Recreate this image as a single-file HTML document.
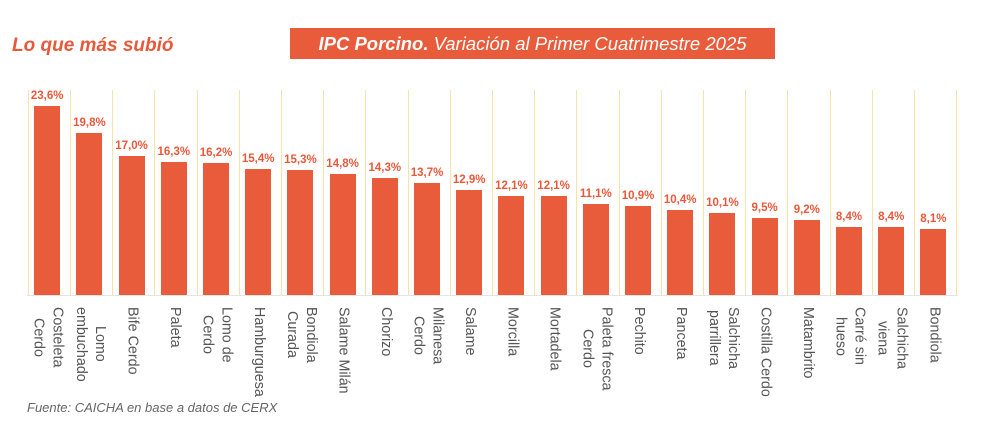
<!DOCTYPE html>
<html><head><meta charset="utf-8"><style>
body{margin:0;width:992px;height:441px;background:#fff;position:relative;overflow:hidden;font-family:"Liberation Sans",sans-serif}
.t1{position:absolute;left:12px;top:35px;font-size:19px;font-weight:bold;font-style:italic;color:#e8593a}
.tb{position:absolute;left:290px;top:28px;width:485px;height:31px;background:#e95c3b;color:#fff;font-size:18.5px;font-style:italic;line-height:31px;text-align:center}
.c{position:absolute;top:90px;height:205px;width:42.2px;border-left:1px solid #f8e3a0;box-sizing:border-box;display:flex;flex-direction:column;justify-content:flex-end}
.v{width:26px;margin-left:5.5px;text-align:center;white-space:nowrap;font-size:11.5px;font-weight:bold;color:#e8593a;margin-bottom:4px;display:flex;justify-content:center}
.b{width:26px;margin-left:5.5px;background:#e95c3b}
.l{position:absolute;top:217px;left:-1px;width:40px;display:flex;justify-content:center}
.l span{writing-mode:vertical-rl;text-align:center;font-size:14.3px;line-height:19px;color:#555;white-space:nowrap}
.base{position:absolute;left:27px;top:295px;width:931px;height:1px;background:#e4e4e4}
.r{position:absolute;left:956px;top:90px;width:1px;height:205px;background:#f8e3a0}
.src{position:absolute;left:27px;top:400px;font-size:13px;font-style:italic;color:#666}
</style></head><body>
<div class="t1">Lo que más subió</div>
<div class="tb"><b>IPC Porcino.</b> Variación al Primer Cuatrimestre 2025</div>
<div class="c" style="left:27.7px"><div class="v">23,6%</div><div class="b" style="height:193px"></div><div class="l"><span>Costeleta<br>Cerdo</span></div></div>
<div class="c" style="left:69.9px"><div class="v">19,8%</div><div class="b" style="height:162px"></div><div class="l"><span>Lomo<br>embuchado</span></div></div>
<div class="c" style="left:112.1px"><div class="v">17,0%</div><div class="b" style="height:139px"></div><div class="l"><span>Bife Cerdo</span></div></div>
<div class="c" style="left:154.3px"><div class="v">16,3%</div><div class="b" style="height:133px"></div><div class="l"><span>Paleta</span></div></div>
<div class="c" style="left:196.5px"><div class="v">16,2%</div><div class="b" style="height:132.5px"></div><div class="l"><span>Lomo de<br>Cerdo</span></div></div>
<div class="c" style="left:238.7px"><div class="v">15,4%</div><div class="b" style="height:126px"></div><div class="l"><span>Hamburguesa</span></div></div>
<div class="c" style="left:280.9px"><div class="v">15,3%</div><div class="b" style="height:125px"></div><div class="l"><span>Bondiola<br>Curada</span></div></div>
<div class="c" style="left:323.1px"><div class="v">14,8%</div><div class="b" style="height:121px"></div><div class="l"><span>Salame Milán</span></div></div>
<div class="c" style="left:365.3px"><div class="v">14,3%</div><div class="b" style="height:117px"></div><div class="l"><span>Chorizo</span></div></div>
<div class="c" style="left:407.5px"><div class="v">13,7%</div><div class="b" style="height:112px"></div><div class="l"><span>Milanesa<br>Cerdo</span></div></div>
<div class="c" style="left:449.7px"><div class="v">12,9%</div><div class="b" style="height:105.5px"></div><div class="l"><span>Salame</span></div></div>
<div class="c" style="left:491.9px"><div class="v">12,1%</div><div class="b" style="height:99px"></div><div class="l"><span>Morcilla</span></div></div>
<div class="c" style="left:534.1px"><div class="v">12,1%</div><div class="b" style="height:99px"></div><div class="l"><span>Mortadela</span></div></div>
<div class="c" style="left:576.3px"><div class="v">11,1%</div><div class="b" style="height:91px"></div><div class="l"><span>Paleta fresca<br>Cerdo</span></div></div>
<div class="c" style="left:618.5px"><div class="v">10,9%</div><div class="b" style="height:89px"></div><div class="l"><span>Pechito</span></div></div>
<div class="c" style="left:660.7px"><div class="v">10,4%</div><div class="b" style="height:85px"></div><div class="l"><span>Panceta</span></div></div>
<div class="c" style="left:702.9px"><div class="v">10,1%</div><div class="b" style="height:82.5px"></div><div class="l"><span>Salchicha<br>parrillera</span></div></div>
<div class="c" style="left:745.1px"><div class="v">9,5%</div><div class="b" style="height:77.5px"></div><div class="l"><span>Costilla Cerdo</span></div></div>
<div class="c" style="left:787.3px"><div class="v">9,2%</div><div class="b" style="height:75px"></div><div class="l"><span>Matambrito</span></div></div>
<div class="c" style="left:829.5px"><div class="v">8,4%</div><div class="b" style="height:68.5px"></div><div class="l"><span>Carré sin<br>hueso</span></div></div>
<div class="c" style="left:871.7px"><div class="v">8,4%</div><div class="b" style="height:68.5px"></div><div class="l"><span>Salchicha<br>viena</span></div></div>
<div class="c" style="left:913.9px"><div class="v">8,1%</div><div class="b" style="height:66px"></div><div class="l"><span>Bondiola</span></div></div>
<div class="r"></div>
<div class="base"></div>
<div class="src">Fuente: CAICHA en base a datos de CERX</div>
</body></html>
